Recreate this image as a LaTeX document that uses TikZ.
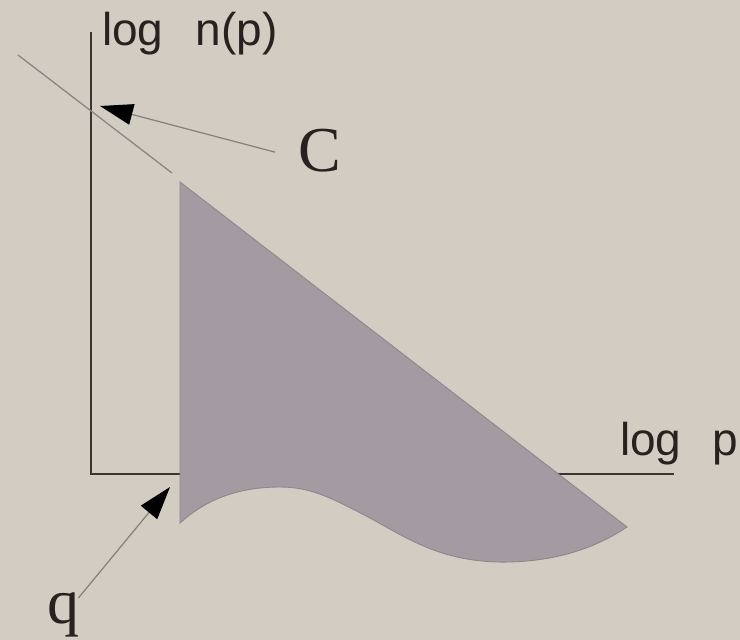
\documentclass[tikz,border=0pt]{standalone}
\usepackage{fontspec}
\setmainfont{Liberation Serif}
\newfontfamily\axfont{Liberation Sans}
\usetikzlibrary{arrows.meta}
\definecolor{bg}{HTML}{D3CCC3}
\definecolor{fillc}{HTML}{A39BA1}
\definecolor{edgec}{HTML}{8E868B}
\definecolor{axisc}{HTML}{3B3430}
\definecolor{textc}{HTML}{27221F}
\definecolor{thinc}{HTML}{8C8585}
\definecolor{shaftc}{HTML}{857E7D}
\begin{document}
\begin{tikzpicture}[x=1pt,y=-1pt,
  axisline/.style={draw=axisc,line width=2.2pt},
  thinline/.style={draw=thinc,line width=1.3pt},
  pointer/.style={draw=shaftc,line width=1.2pt,-{Triangle[length=33pt,width=21pt,fill=black,color=black]}},
  sanslab/.style={inner sep=0pt,anchor=base west,text=textc,font=\axfont\fontsize{46}{54}\selectfont},
  seriflab/.style={inner sep=0pt,anchor=base west,text=textc,font=\fontsize{64}{76}\selectfont},
  region/.style={fill=fillc,draw=edgec,line width=0.9pt}
]
\fill[bg] (0,0) rectangle (740,640);
\useasboundingbox (0,0) rectangle (740,640);

% axes
\coordinate (O) at (91,474);
\coordinate (Ytop) at (91,32);
\coordinate (Xend) at (674,474);
\draw[axisline] (Ytop) -- (O) -- (Xend);

% thin diagonal line
\coordinate (L1) at (18,55);
\coordinate (L2) at (172,173);
\draw[thinline] (L1) -- (L2);

% shaded region
\path[region] (180,182) -- (627,527)
  .. controls (590,552) and (545,563) .. (497,562)
  .. controls (440,560) and (410,540) .. (370,518)
  .. controls (330,497) and (310,487) .. (280,487)
  .. controls (230,487) and (200,505) .. (180,523) -- cycle;

% labels
\node[sanslab] (ylab) at (102,45) {log\hspace{32pt}n(p)};
\node[sanslab] (xlab) at (620,455) {log\hspace{31pt}p};
\node[seriflab] (Clab) at (298,171) {C};
\node[seriflab] (qlab) at (47,623) {q};

% arrows
\coordinate (Ctip) at (100,106);
\coordinate (qtip) at (170,487);
\draw[pointer] ([xshift=-23pt,yshift=-2pt]Clab.west) -- (Ctip);
\draw[pointer] ([xshift=-1pt,yshift=-6pt]qlab.north east) -- (qtip);
\end{tikzpicture}
\end{document}
